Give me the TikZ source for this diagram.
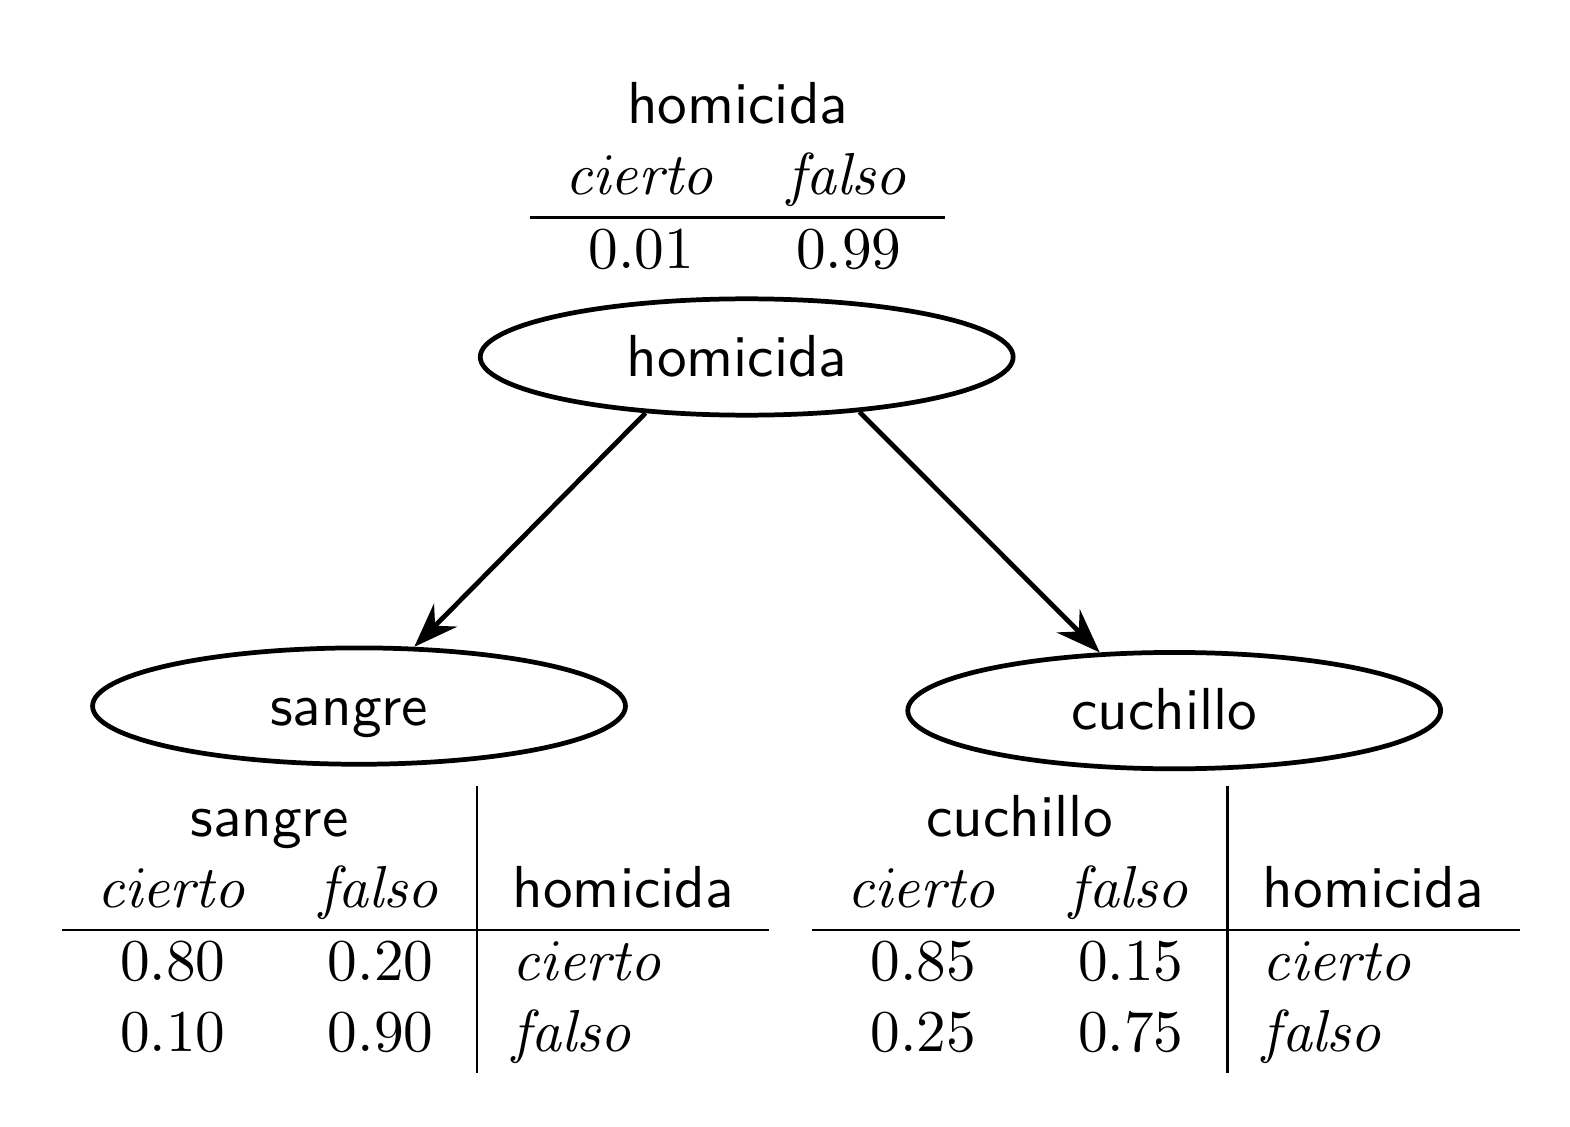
\documentclass[tikz,border=0pt]{standalone}
\usepackage{amsmath}
\usetikzlibrary{positioning,shapes,arrows.meta}

\begin{document}
\begin{tikzpicture}[thick,
    every node/.style={font=\sffamily},
    varnode/.style={draw,ellipse,minimum width=3.16cm,minimum height=0.69cm,inner sep=0pt,
      text height=2ex,text depth=.5ex},
    tabnode/.style={inner sep=0pt},
    edge/.style={-{Stealth[length=7.5pt,width=5.5pt,inset=2.5pt]}}
  ]
  \useasboundingbox (0,0) rectangle (9.31,6.678);

  % the variables
  \node[varnode] (homicida) at (4.428,4.561) {homicida\kern3.3pt};
  \node[varnode] (sangre) at (2.129,2.491) {sangre\kern3.3pt};
  \node[varnode] (cuchillo) at (6.963,2.464) {cuchillo\kern3.3pt};

  % the tables
  \node[tabnode] (thomicida) at (4.374,5.599) {\begin{tabular}{cc}
    \multicolumn{2}{c}{homicida}\\
    $\mathit{cierto}$ & $\mathit{falso}$\\ \hline
    $0.01$ & $0.99$
  \end{tabular}};
  \node[tabnode] (tsangre) at (2.464,1.165) {\begin{tabular}{cc|l}
    \multicolumn{2}{c|}{sangre} & \\
    $\mathit{cierto}$ & $\mathit{falso}$ & homicida\\ \hline
    $0.80$ & $0.20$ & $\mathit{cierto}$\\
    $0.10$ & $0.90$ & $\mathit{falso}$
  \end{tabular}};
  \node[tabnode] (tcuchillo) at (6.913,1.165) {\begin{tabular}{cc|l}
    \multicolumn{2}{c|}{cuchillo} & \\
    $\mathit{cierto}$ & $\mathit{falso}$ & homicida\\ \hline
    $0.85$ & $0.15$ & $\mathit{cierto}$\\
    $0.25$ & $0.75$ & $\mathit{falso}$
  \end{tabular}};

  % the edges
  \draw[edge] (homicida.209) -- (sangre.47);
  \draw[edge] (homicida.334) -- (cuchillo.142);
\end{tikzpicture}
\end{document}
